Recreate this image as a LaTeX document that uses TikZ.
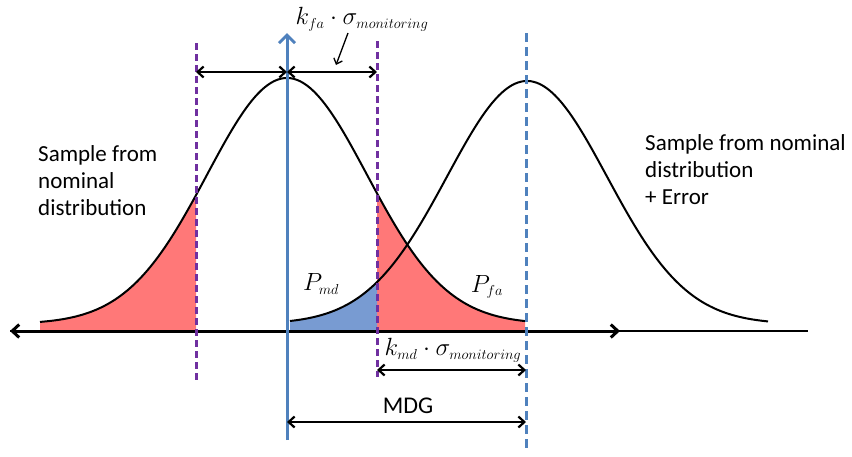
\documentclass[tikz,border=0pt]{standalone}
\usepackage{fontspec}
\setmainfont{Carlito}
\DeclareMathSizes{23}{23}{15}{12}
\usetikzlibrary{arrows.meta}
\definecolor{pinkfill}{RGB}{255,120,120}
\definecolor{bluefill}{RGB}{120,155,210}
\definecolor{officeblue}{RGB}{79,129,189}
\definecolor{purp}{RGB}{112,48,160}
\tikzset{
  curve/.style={line width=2pt, black},
  purpline/.style={line width=3pt, purp, dash pattern=on 7pt off 4pt},
  bluedash/.style={line width=3pt, officeblue, dash pattern=on 9pt off 5pt},
  dim/.style={line width=2.2pt, black, {Straight Barb[length=6pt,width=11pt]}-{Straight Barb[length=6pt,width=11pt]}},
  lbl/.style={font=\fontsize{23}{27}\selectfont, inner sep=0pt},
  txt/.style={font=\fontsize{23}{27}\selectfont, align=left, inner sep=0pt, anchor=north west}
}
\begin{document}
\begin{tikzpicture}[x=1pt,y=-1pt]
\path[use as bounding box, fill=white] (0,0) rectangle (852,456);
% fills
\fill[pinkfill] (40,331) -- plot[domain=40:196,samples=60] (\x,{324-246*exp(-(((\x-287)/80)^2)/2)}) -- (196,331) -- cycle;
\fill[pinkfill] (377,331) -- plot[domain=377:525,samples=60] (\x,{324-246*exp(-(((\x-287)/80)^2)/2)}) -- (525,331) -- cycle;
\fill[bluefill] (290,331) -- plot[domain=290:377,samples=40] (\x,{324-243*exp(-(((\x-527)/80)^2)/2)}) -- (377,331) -- cycle;
% curves
\draw[curve] plot[domain=40:525,samples=150,smooth] (\x,{324-246*exp(-(((\x-287)/80)^2)/2)});
\draw[curve] plot[domain=290:768,samples=150,smooth] (\x,{324-243*exp(-(((\x-527)/80)^2)/2)});
% axis
\coordinate (axl) at (10,331);
\coordinate (axm) at (620,331);
\coordinate (axr) at (808,331);
\draw[line width=2pt] (axl) -- (axr);
\draw[line width=3pt, {Straight Barb[length=7pt,width=13pt]}-{Straight Barb[length=7pt,width=13pt]}] (axl) -- (axm);
% vertical lines
\coordinate (pl1t) at (196,43); \coordinate (pl1b) at (196,380);
\coordinate (pl2t) at (377,41); \coordinate (pl2b) at (377,377);
\coordinate (bat) at (287,33); \coordinate (bab) at (287,440);
\coordinate (bdt) at (526,33); \coordinate (bdb) at (526,448);
\draw[purpline] (pl1t) -- (pl1b);
\draw[purpline] (pl2t) -- (pl2b);
\draw[bluedash] (bdt) -- (bdb);
\draw[line width=3pt, officeblue, -{Straight Barb[length=8pt,width=16pt]}] (bab) -- (bat);
% dimension arrows
\coordinate (ta) at (196,72); \coordinate (tb) at (287,72); \coordinate (tc) at (377,72);
\draw[dim] (ta) -- (tb);
\draw[dim] (tb) -- (tc);
\coordinate (ka) at (377,370); \coordinate (kb) at (526,370);
\draw[dim] (ka) -- (kb);
\coordinate (ma) at (287,422); \coordinate (mb) at (526,422);
\draw[dim] (ma) -- (mb);
% pointer
\coordinate (pa) at (348,33); \coordinate (pb) at (336,65);
\draw[line width=1.3pt, -{Straight Barb[length=5pt,width=9pt]}] (pa) -- (pb);
% labels
\node[lbl] (kfa) at (362,19) {$k_{fa}\cdot\sigma_{monitoring}$};
\node[lbl] (pmd) at (321,284) {$P_{md}$};
\node[lbl] (pfa) at (487,287) {$P_{fa}$};
\node[lbl] (kmd) at (453,350) {$k_{md}\cdot\sigma_{monitoring}$};
\node[lbl, font=\fontsize{24}{28}\selectfont] (mdg) at (408,406) {MDG};
\node[txt] (left) at (38,145) {Sample from\\nominal\\distribution};
\node[txt] (right) at (645,134) {Sample from nominal\\distribution\\+ Error};
\end{tikzpicture}
\end{document}
